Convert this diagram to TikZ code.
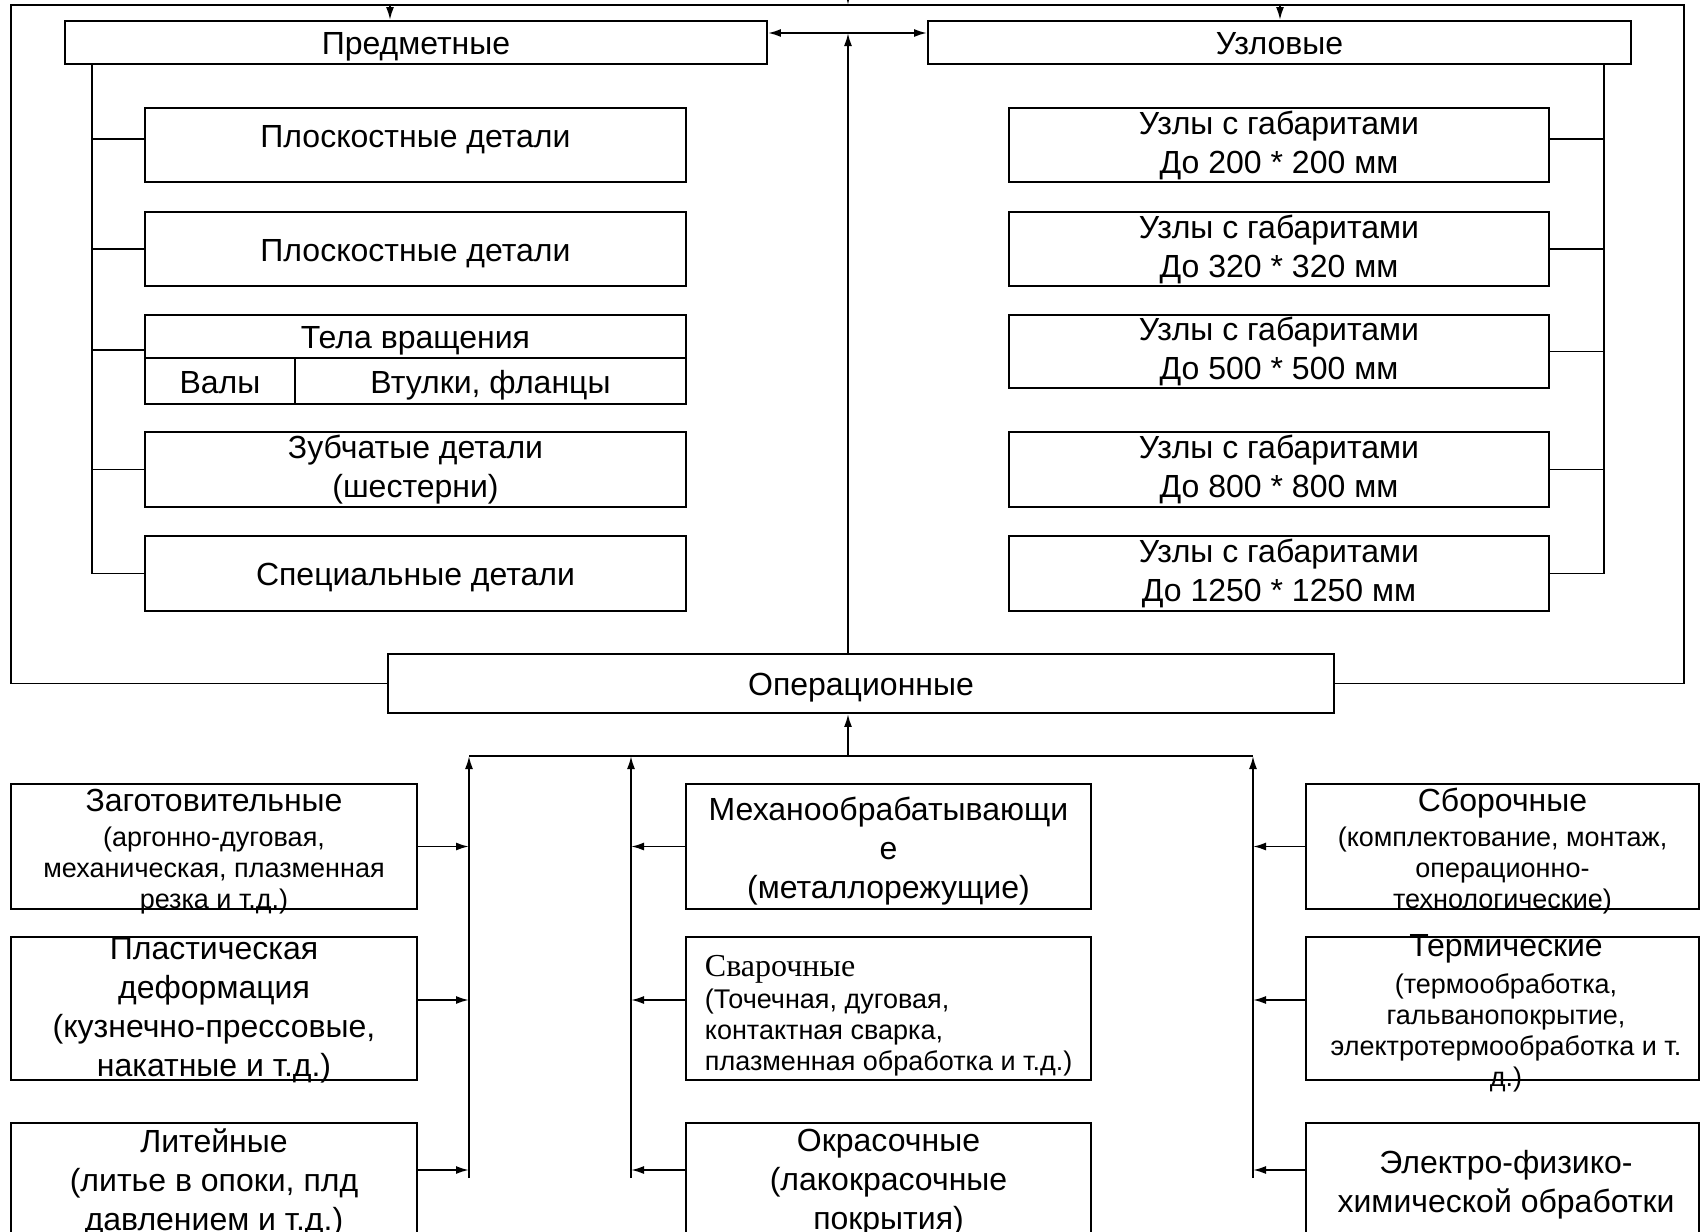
\documentclass[tikz,border=0pt]{standalone}
\usepackage{fontspec}
\setmainfont{Liberation Sans}
\newfontfamily\timesf{Liberation Serif}
\usetikzlibrary{arrows.meta}
\newcommand\bigtxt{\fontsize{32}{39}\selectfont}
\newcommand\smalltxt{\fontsize{27}{31}\selectfont}

\begin{document}
\begin{tikzpicture}[x=1pt,y=-1pt,line width=1.9pt,
  blk/.style={draw,inner sep=0pt,align=center,font=\bigtxt},
  one/.style={text height=27pt,text depth=3pt},
  txt/.style={inner sep=0pt,align=center,font=\bigtxt},
  sml/.style={inner sep=0pt,align=center,font=\smalltxt},
  arr/.style={-{Latex[length=13pt,width=8pt]}},
  dbl/.style={{Latex[length=13pt,width=8pt]}-{Latex[length=13pt,width=8pt]}}]
\useasboundingbox (0,0) rectangle (1701,1232);
\clip (0,0) rectangle (1701,1232);

% top level
\node[blk,one,minimum width=702pt,minimum height=43pt] (predm) at (416,42.5) {Предметные};
\node[blk,one,minimum width=703pt,minimum height=43pt] (uzl) at (1279.5,42.5) {Узловые};
\node[blk,one,minimum width=946pt,minimum height=59pt] (oper) at (861,683.5) {Операционные};

% parts
\node[blk,one,text depth=23pt,minimum width=541pt,minimum height=74pt] (p1) at (415.5,145) {Плоскостные детали};
\node[blk,one,minimum width=541pt,minimum height=74pt] (p2) at (415.5,249) {Плоскостные детали};
\node[blk,one,minimum width=541pt,minimum height=43pt] (tel) at (415.5,336.5) {Тела вращения};
\node[blk,one,minimum width=150pt,minimum height=46pt] (val) at (220,381) {Валы};
\node[blk,one,minimum width=391pt,minimum height=46pt] (vtul) at (490.5,381) {Втулки, фланцы};
\node[blk,minimum width=541pt,minimum height=75pt] (p4) at (415.5,469.5) {Зубчатые детали\\(шестерни)};
\node[blk,one,minimum width=541pt,minimum height=75pt] (p5) at (415.5,573.5) {Специальные детали};

% units
\node[blk,minimum width=540pt,minimum height=74pt] (u1) at (1279,145) {Узлы с габаритами\\До 200 * 200 мм};
\node[blk,minimum width=540pt,minimum height=74pt] (u2) at (1279,249) {Узлы с габаритами\\До 320 * 320 мм};
\node[blk,minimum width=540pt,minimum height=73pt] (u3) at (1279,351.5) {Узлы с габаритами\\До 500 * 500 мм};
\node[blk,minimum width=540pt,minimum height=75pt] (u4) at (1279,469.5) {Узлы с габаритами\\До 800 * 800 мм};
\node[blk,minimum width=540pt,minimum height=75pt] (u5) at (1279,573.5) {Узлы с габаритами\\До 1250 * 1250 мм};

% operations
\node[blk,minimum width=406pt,minimum height=125pt] (zag) at (214,846.5) {};
\node[blk,minimum width=406pt,minimum height=143pt] (plast) at (214,1008.5) {};
\node[blk,minimum width=406pt,minimum height=137pt] (lit) at (214,1191.5) {};
\node[blk,minimum width=405pt,minimum height=125pt] (mech) at (888.5,846.5) {};
\node[blk,minimum width=405pt,minimum height=143pt] (svar) at (888.5,1008.5) {};
\node[blk,minimum width=405pt,minimum height=137pt] (okr) at (888.5,1191.5) {};
\node[blk,minimum width=393pt,minimum height=125pt] (sbor) at (1502.5,846.5) {};
\node[blk,minimum width=393pt,minimum height=143pt] (term) at (1502.5,1008.5) {};
\node[blk,minimum width=393pt,minimum height=137pt] (elek) at (1502.5,1191.5) {};

\node[txt,anchor=base] (zagT) at (214,811) {Заготовительные};
\node[sml,anchor=north] (zagS) at (214,826) {(аргонно-дуговая,\\механическая, плазменная\\резка и т.д.)};
\node[txt,anchor=north] (plastT) at (214,937) {Пластическая\\деформация\\(кузнечно-прессовые,\\накатные и т.д.)};
\node[txt,anchor=north] (litT) at (214,1128) {Литейные\\(литье в опоки, плд\\давлением и т.д.)};
\node[txt,anchor=north] (mechT) at (888.5,796) {Механообрабатывающи\\е\\(металлорежущие)};
\node[txt,anchor=base west,font=\bigtxt\timesf] (svarT) at (704,976) {Сварочные};
\node[sml,anchor=north west,align=left] (svarS) at (704,988) {(Точечная, дуговая,\\контактная сварка,\\плазменная обработка и т.д.)};
\node[txt,anchor=north] (okrT) at (888.5,1128) {Окрасочные\\(лакокрасочные\\покрытия)};
\node[txt,anchor=base] (sborT) at (1502.5,811) {Сборочные};
\node[sml,anchor=north] (sborS) at (1502.5,826) {(комплектование, монтаж,\\операционно-\\технологические)};
\node[txt,anchor=base] (termT) at (1506,956) {Термические};
\node[sml,anchor=north] (termS) at (1506,973) {(термообработка,\\гальванопокрытие,\\электротермообработка и т.\\д.)};
\node[txt,anchor=north] (elekT) at (1506,1149) {Электро-физико-\\химической обработки};

% outer loop
\coordinate (fTL) at (11,5);
\coordinate (fTR) at (1684,5);
\draw (oper.west) -- (oper.west -| fTL) -- (fTL) -- (fTR) -- (oper.east -| fTR) -- (oper.east);
\coordinate (topIn) at (848,-10);
\draw[arr] (topIn) -- (topIn |- fTL);
\coordinate (pIn) at (390,5);
\coordinate (uIn) at (1280,5);
\draw[arr] (pIn) -- (pIn |- predm.north);
\draw[arr] (uIn) -- (uIn |- uzl.north);

% link between groups
\coordinate (link) at (848,33);
\draw[dbl] (predm.east |- link) -- (uzl.west |- link);
\draw[arr] (link |- oper.north) -- (link);

% part branches
\coordinate (pbus) at (92,0);
\draw (pbus |- predm.south) -- (pbus |- p5.west);
\draw ([yshift=6pt]pbus |- p1.west) -- ([yshift=6pt]p1.west);
\draw ([yshift=-13.5pt]pbus |- tel.west) -- ([yshift=-13.5pt]tel.west);
\foreach \b in {p2,p4,p5} \draw (pbus |- \b.west) -- (\b.west);

% unit branches
\coordinate (ubus) at (1604,0);
\draw (ubus |- uzl.south) -- (ubus |- u5.east);
\draw ([yshift=6pt]ubus |- u1.east) -- ([yshift=6pt]u1.east);
\foreach \b in {u2,u3,u4,u5} \draw (ubus |- \b.east) -- (\b.east);

% operation buses
\coordinate (lbus) at (469,756);
\coordinate (mbus) at (631,756);
\coordinate (rbus) at (1253,756);
\coordinate (obus) at (848,756);
\draw (lbus) -- (rbus);
\draw[arr] (obus) -- (obus |- oper.south);
\foreach \c in {lbus,mbus,rbus} \draw[arr] ([yshift=-422pt]\c) -- (\c);

\draw[arr] (zag.east) -- (zag.east -| lbus);
\draw[arr] ([yshift=8.5pt]plast.east) -- ([yshift=8.5pt]plast.east -| lbus);
\draw[arr] ([yshift=21.5pt]lit.east) -- ([yshift=21.5pt]lit.east -| lbus);
\draw[arr] (mech.west) -- (mech.west -| mbus);
\draw[arr] ([yshift=8.5pt]svar.west) -- ([yshift=8.5pt]svar.west -| mbus);
\draw[arr] ([yshift=21.5pt]okr.west) -- ([yshift=21.5pt]okr.west -| mbus);
\draw[arr] (sbor.west) -- (sbor.west -| rbus);
\draw[arr] ([yshift=8.5pt]term.west) -- ([yshift=8.5pt]term.west -| rbus);
\draw[arr] ([yshift=21.5pt]elek.west) -- ([yshift=21.5pt]elek.west -| rbus);
\end{tikzpicture}
\end{document}
